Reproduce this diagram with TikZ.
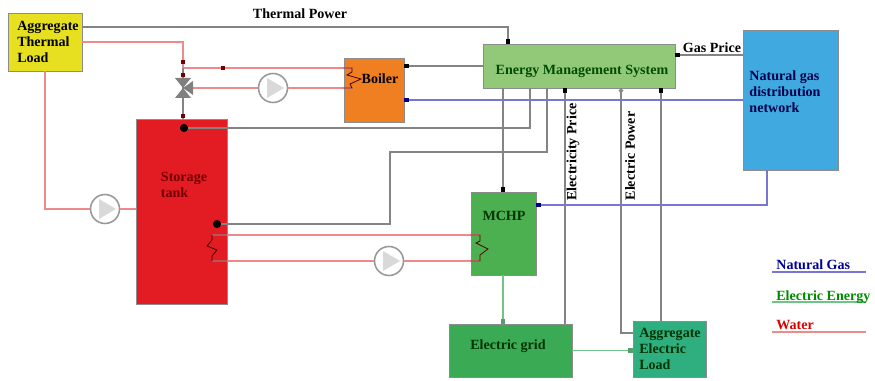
\documentclass[tikz,border=0pt]{standalone}
\usepackage{fontspec}
\setmainfont{Liberation Serif}
\usetikzlibrary{arrows.meta,calc}
\definecolor{wline}{HTML}{EE8A8A}
\definecolor{gline}{HTML}{848484}
\definecolor{nline}{HTML}{7777D2}
\definecolor{eline}{HTML}{70C488}
\tikzset{
  box/.style={draw=black!45,line width=0.4pt,inner sep=0pt},
  txt/.style={font=\bfseries\fontsize{8}{9.2}\selectfont,align=left,inner sep=0pt},
  water/.style={wline,line width=0.8pt},
  signal/.style={gline,line width=0.8pt},
  gas/.style={nline,line width=0.8pt},
  elec/.style={eline,line width=0.8pt},
  tipblk/.style={-{Square[length=2.6pt,width=2.6pt,black]}},
  tipgas/.style={-{Square[length=2.6pt,width=2.6pt,blue!50!black]}},
  tipele/.style={-{Square[length=2.6pt,width=2.6pt,eline!80!black]}},
  redmark/.style={fill=red!45!black,inner sep=0pt,minimum size=2.6pt},
  blackdot/.style={circle,fill=black,inner sep=0pt,minimum size=4.6pt},
  pump/.style={circle,draw=black!40,line width=0.9pt,fill=white,inner sep=0pt,minimum size=0.58cm,
    path picture={\fill[black!15] (-6,-10)--(11,0)--(-6,10)--cycle;}},
  coil/.style={black!70!red,line width=0.45pt},
}
\begin{document}
\begin{tikzpicture}[x=0.02cm,y=-0.02cm]
\useasboundingbox (0,0) rectangle (875,381);
% boxes
\node[box,fill={rgb,255:red,230;green,224;blue,32},minimum width=1.48cm,minimum height=1.16cm] (load) at (45,42) {};
\node[box,fill={rgb,255:red,240;green,127;blue,34},minimum width=1.2cm,minimum height=1.28cm] (boiler) at (374,90) {};
\node[box,fill={rgb,255:red,146;green,201;blue,120},minimum width=3.84cm,minimum height=0.88cm] (ems) at (579,66) {};
\node[box,fill={rgb,255:red,63;green,169;blue,224},minimum width=1.9cm,minimum height=2.8cm] (net) at (790.5,100) {};
\node[box,fill={rgb,255:red,227;green,27;blue,35},minimum width=1.82cm,minimum height=3.7cm] (tank) at (181.5,211.5) {};
\node[box,fill={rgb,255:red,76;green,175;blue,80},minimum width=1.3cm,minimum height=1.66cm] (mchp) at (503.5,233.5) {};
\node[box,fill={rgb,255:red,58;green,170;blue,85},minimum width=2.46cm,minimum height=1.06cm] (grid) at (510.5,350.5) {};
\node[box,fill={rgb,255:red,47;green,174;blue,128},minimum width=1.46cm,minimum height=1.12cm] (eload) at (669.5,349) {};
% pumps and valve
\node[pump] (pumpa) at (105,209) {};
\node[pump] (pumpb) at (273,88) {};
\node[pump] (pumpc) at (389,261) {};
\coordinate (valve) at (183,88);
\coordinate (tee) at (183,68);
\coordinate (hxa) at (352,68); \coordinate (hxb) at (352,88);
\coordinate (hxc) at (212,235); \coordinate (hxd) at (212,261);
\coordinate (hxe) at (480,235); \coordinate (hxf) at (480,261);
% water
\draw[water] (load.east |- 0,42) -| (tee);
\draw[water] (tee) -- (hxa);
\draw[water] (valve) -- (pumpb); \draw[water] (pumpb) -- (hxb);
\draw[water] (load.south) |- (pumpa); \draw[water] (pumpa) -- (tank.west |- pumpa);
\draw[water] (hxc) -- (hxe);
\draw[water] (hxd) -- (pumpc); \draw[water] (pumpc) -- (hxf);
\draw[signal] (valve) -- (tank.north -| valve);
\draw[signal] (tee) -- (valve);
% valve body
\fill[black!50] ($(valve)+(-8,-10)$) -- ($(valve)+(8,-10)$) -- ($(valve)+(-8,10)$) -- ($(valve)+(8,10)$) -- cycle;
\fill[black!50] (valve) -- ($(valve)+(10,-7)$) -- ($(valve)+(10,7)$) -- cycle;
\node[redmark] (ma) at (183,62) {}; \node[redmark] (mb) at (183,75) {};
\node[redmark] (mc) at (223,68) {}; \node[redmark] (md) at (183,116) {};
% coils
\draw[coil] (boiler.west |- hxa) -- (hxa) -- (352,72) -- (347,75) -- (361,79) -- (350,84) -- (hxb) -- (boiler.west |- hxb);
\draw[coil] (tank.east |- hxc) -- (hxc) -- (212,240) -- (207,246) -- (217,250) -- (212,256) -- (hxd) -- (tank.east |- hxd);
\draw[coil] (mchp.west |- hxe) -- (hxe) -- (480,241) -- (476,243) -- (488,249) -- (480,255) -- (hxf) -- (mchp.west |- hxf);
% signals
\node[blackdot] (dota) at (184,128) {}; \node[blackdot] (dotb) at (217,224) {};
\draw[signal,tipblk] (load.east |- 0,27) -| (ems.north -| 508,0);
\draw[signal,tipblk] (ems.west |- 0,66) -- (boiler.east |- 0,66);
\draw[signal] (dota) -| (ems.south -| 530,0);
\draw[signal] (dotb) -| (390,152) -| (ems.south -| 547,0);
\draw[signal,tipblk] (ems.south -| 503,0) -- (mchp.north -| 503,0);
\draw[signal,tipblk] (net.west |- 0,55) -- (ems.east |- 0,55);
\draw[signal,tipblk] (grid.north -| 565,0) -- (ems.south -| 565,0);
\draw[signal,-{Circle[open,length=2.6pt,width=2.6pt,fill=white]}] (eload.west |- 0,333) -| (ems.south -| 621,0);
\draw[signal,tipblk] (eload.north -| 661,0) -- (ems.south -| 661,0);
% gas
\draw[gas,tipgas] (net.west |- 0,100) -- (boiler.east |- 0,100);
\draw[gas,tipgas] (net.south -| 767,0) |- (mchp.east |- 0,205);
% electric
\draw[elec,tipele] (mchp.south -| 503,0) -- (grid.north -| 503,0);
\draw[elec,tipele] (grid.east) -- (eload.west |- grid.east);
% texts
\node[txt] (loadtxt) at (48,42) {Aggregate\\Thermal\\Load};
\node[txt] (boilertxt) at (380,79) {Boiler};
\node[txt,text={black!70!green}] (emstxt) at (582,71) {Energy Management System};
\node[txt,text={blue!30!black}] (nettxt) at (785,92) {Natural gas\\distribution\\network};
\node[txt,text={red!45!black}] (tanktxt) at (184,185) {Storage\\tank};
\node[txt,text={black!80!green}] (mchptxt) at (504,216) {MCHP};
\node[txt,text={black!80!green}] (gridtxt) at (508,346) {Electric grid};
\node[txt,text={black!80!green}] (eloadtxt) at (670,349) {Aggregate\\Electric\\Load};
\node[txt] (thermtxt) at (300,14) {Thermal Power};
\node[txt] (gastxt) at (712,48) {Gas Price};
\node[txt,rotate=90] (pricetxt) at (573,152) {Electricity Price};
\node[txt,rotate=90] (powertxt) at (630,156) {Electric Power};
% legend
\coordinate (lga) at (772,272); \coordinate (lgb) at (866,272);
\coordinate (lgc) at (772,302); \coordinate (lgd) at (866,302);
\coordinate (lge) at (772,332); \coordinate (lgf) at (866,332);
\draw[gas] (lga) -- (lgb); \draw[elec] (lgc) -- (lgd); \draw[water] (lge) -- (lgf);
\node[txt,text={blue!60!black},anchor=base west] (lgatxt) at (776,270) {Natural Gas};
\node[txt,text={green!55!black},anchor=base west] (lgbtxt) at (776,300) {Electric Energy};
\node[txt,text={red!85!black},anchor=base west] (lgctxt) at (776,330) {Water};
\end{tikzpicture}
\end{document}
